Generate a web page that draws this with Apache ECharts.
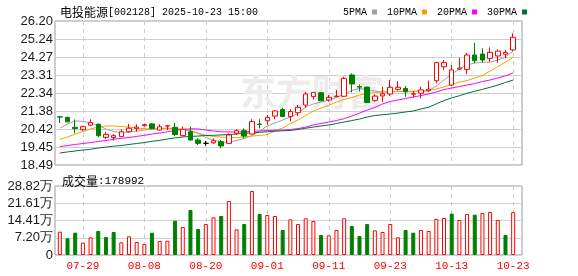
<!DOCTYPE html>
<html><head><meta charset="utf-8">
<script src="https://cdn.jsdelivr.net/npm/echarts@6/dist/echarts.min.js"></script>
<style>html,body{margin:0;padding:0;background:#fff}#c{width:578px;height:276px}</style>
</head><body><div id="c"></div>
<script>
const dates = ['07-24','07-25','07-28','07-29','07-30','07-31','08-01','08-04','08-05','08-06','08-07','08-08','08-11','08-12','08-13','08-14','08-15','08-18','08-19','08-20','08-21','08-22','08-25','08-26','08-27','08-28','08-29','09-01','09-02','09-03','09-04','09-05','09-08','09-09','09-10','09-11','09-12','09-15','09-16','09-17','09-18','09-19','09-22','09-23','09-24','09-25','09-26','09-29','09-30','10-09','10-10','10-13','10-14','10-15','10-16','10-17','10-20','10-21','10-22','10-23'];
const opens  = [21.07,21.04,20.51,20.38,20.62,20.67,19.97,19.96,20.01,20.27,20.45,20.59,20.69,20.36,20.58,20.51,20.06,20.27,19.83,19.65,19.68,19.74,19.65,20.19,20.33,20.15,20.68,20.86,21.11,21.46,21.08,21.29,21.70,22.15,22.36,21.97,22.15,22.17,23.31,22.69,22.66,21.95,22.19,22.29,22.54,22.59,22.28,22.33,22.47,23.00,23.75,22.77,23.63,23.61,24.38,24.43,24.20,24.33,24.42,24.65];
const closes = [21.06,20.80,20.44,20.54,20.76,20.06,20.13,20.06,20.27,20.46,20.52,20.65,20.45,20.54,20.59,20.12,20.40,19.83,19.65,19.65,19.79,19.51,20.10,20.33,20.04,20.81,20.66,21.04,21.38,21.09,21.35,21.58,22.29,22.38,21.93,22.11,22.18,23.13,22.83,22.66,21.84,22.18,22.30,22.65,22.65,22.41,22.30,22.51,22.55,23.97,23.97,23.58,23.68,24.38,24.07,24.11,24.52,24.59,24.52,25.33];
const lows   = [20.74,20.78,20.18,20.31,20.57,19.98,19.87,19.80,19.98,20.22,20.27,20.55,20.40,20.33,20.36,20.05,20.03,19.80,19.56,19.51,19.61,19.39,19.63,20.10,19.92,20.12,20.45,20.64,20.94,21.05,20.84,21.11,21.55,22.00,21.91,21.88,22.12,22.13,22.38,22.43,21.80,21.87,21.87,22.19,22.47,22.15,22.12,22.06,22.41,22.87,23.58,22.72,23.58,23.36,23.94,23.97,24.02,23.97,24.20,24.59];
const highs  = [21.07,21.08,20.93,20.59,20.94,20.72,20.26,20.15,20.40,20.69,20.67,20.71,20.74,20.67,20.62,20.75,20.55,20.55,19.92,19.77,19.91,19.83,20.19,20.40,20.45,20.94,20.94,21.17,21.43,21.55,21.47,21.70,22.41,22.40,22.38,22.24,22.51,23.22,23.40,22.80,22.70,22.28,22.68,23.04,22.98,22.72,22.46,22.68,23.01,24.02,24.11,23.84,24.23,24.50,25.04,24.74,24.79,24.68,24.64,25.54];
const volumes = [97300,69700,93200,51400,73800,100300,75200,96100,52900,78000,54300,46000,93200,58500,59500,143300,117000,188000,108600,129500,157300,162900,225600,107200,129500,267300,171300,167100,162900,104400,149000,129500,153200,142000,83500,82000,104400,153200,121100,79400,129500,103000,96100,129500,73800,104400,93200,104400,100300,150400,154500,172500,146200,171300,168400,175400,179600,146200,83500,178992];
const volumeUp = [1,0,0,1,1,0,0,0,1,1,1,1,0,1,1,0,1,0,0,1,1,0,1,1,0,1,0,1,1,0,1,1,1,1,0,1,1,1,0,0,0,1,1,1,1,0,0,1,1,1,1,0,1,1,0,1,1,1,0,1];
const ma5  = [20.46,20.69,20.85,20.82,20.74,20.61,20.42,20.28,20.23,20.26,20.31,20.36,20.42,20.44,20.47,20.44,20.39,20.31,20.18,19.96,19.83,19.72,19.72,19.80,19.91,20.07,20.31,20.58,20.74,20.90,21.06,21.25,21.60,21.76,21.86,21.97,22.10,22.29,22.48,22.59,22.51,22.45,22.40,22.40,22.43,22.43,22.40,22.43,22.47,22.72,23.04,23.36,23.63,23.84,23.95,23.98,24.00,24.11,24.27,24.59];
const ma10 = [19.86,19.99,20.15,20.28,20.42,20.52,20.58,20.58,20.55,20.52,20.47,20.43,20.42,20.43,20.45,20.44,20.39,20.34,20.20,20.07,20.02,19.98,19.96,19.96,19.99,20.04,20.07,20.12,20.31,20.47,20.71,20.90,21.14,21.38,21.54,21.68,21.86,22.00,22.10,22.24,22.32,22.37,22.40,22.41,22.43,22.43,22.45,22.46,22.48,22.56,22.67,22.80,22.93,23.01,23.15,23.28,23.52,23.76,24.00,24.26];
const ma20 = [19.48,19.53,19.59,19.64,19.69,19.75,19.80,19.87,19.92,19.96,20.02,20.08,20.15,20.20,20.27,20.34,20.39,20.43,20.42,20.36,20.31,20.27,20.26,20.26,20.27,20.28,20.31,20.34,20.35,20.36,20.39,20.44,20.52,20.63,20.71,20.79,20.87,20.97,21.11,21.27,21.43,21.57,21.76,21.89,21.97,22.05,22.13,22.21,22.29,22.40,22.53,22.61,22.69,22.77,22.85,22.96,23.04,23.15,23.26,23.42];
const ma30 = [19.13,19.19,19.24,19.29,19.33,19.40,19.45,19.50,19.53,19.59,19.64,19.69,19.76,19.81,19.88,19.94,19.99,20.02,20.04,20.07,20.08,20.10,20.12,20.15,20.19,20.21,20.24,20.27,20.30,20.32,20.34,20.39,20.46,20.52,20.58,20.63,20.71,20.79,20.87,20.95,21.06,21.14,21.18,21.22,21.27,21.33,21.38,21.49,21.58,21.76,21.94,22.08,22.20,22.33,22.44,22.54,22.65,22.77,22.91,23.04];
const priceTicks = [18.49,19.45,20.42,21.38,22.34,23.31,24.27,25.24,26.20];
const volTicks = [0,72045,144090,216135,288180];
const volTickLabels = ['0','7.20万','14.41万','21.61万','28.82万'];
const maNames = ['5PMA','10PMA','20PMA','30PMA'];
const maColors = ['#a0a0a0','#f5a200','#ff00ff','#00703a'];

const RED = '#ff0000', GREEN = '#008000';
const labelFont = 'Liberation Sans';
const showIdx = (i) => (i - 3) % 8 === 0;

const candleData = dates.map((d, i) => [opens[i], closes[i], lows[i], highs[i]]);
const volData = volumes.map((v, i) => ({
  value: v,
  itemStyle: volumeUp[i] ? {color: '#fff', borderColor: RED, borderWidth: 1} : {color: GREEN, borderColor: GREEN, borderWidth: 1}
}));
const maSeries = [ma5, ma10, ma20, ma30].map((arr, k) => ({
  name: maNames[k], type: 'line', data: arr, xAxisIndex: 1, yAxisIndex: 1,
  symbol: 'none', smooth: false, lineStyle: {width: 1, color: maColors[k]}, itemStyle: {color: maColors[k]}, z: 3
}));

const chart = echarts.init(document.getElementById('c'));
chart.setOption({
  animation: false,
  backgroundColor: '#fff',
  title: [{
    text: '{a|电投能源}{b|[002128] 2025-10-23 15:00}', left: 55, top: 1,
    textStyle: {fontWeight: 'normal', rich: {a: {fontSize: 12, fontWeight: 'normal', fontFamily: 'Noto Sans CJK SC', color: '#000'}, b: {fontSize: 10, fontWeight: 'normal', fontFamily: 'Liberation Mono', color: '#000'}}}
  }, {
    text: '{a|成交量}{b|:178992}', left: 57, top: 170,
    textStyle: {fontWeight: 'normal', rich: {a: {fontSize: 12, fontWeight: 'normal', fontFamily: 'Noto Sans CJK SC', color: '#000'}, b: {fontSize: 11, fontWeight: 'normal', fontFamily: 'Liberation Mono', color: '#000'}}}
  }],
  legend: {
    data: maNames, left: 338, top: 2, align: 'right', icon: 'rect', itemWidth: 5, itemHeight: 5, itemGap: 10,
    textStyle: {fontSize: 10, fontFamily: 'Liberation Mono', color: '#000', padding: [0, 0, 0, 0]}, selectedMode: false
  },
  graphic: [{
    type: 'text', left: 240, top: 74, z: 1, silent: true,
    style: {text: '东方财富', fontSize: 36, fontWeight: 'bold', fontFamily: 'Noto Sans CJK SC', fill: '#ececec'}
  }],
  grid: [
    {left: 55, top: 21, width: 467, height: 144, show: true, borderColor: '#9a9a9a', borderWidth: 1, backgroundColor: 'transparent'},
    {left: 56, top: 21, width: 461, height: 144},
    {left: 55, top: 186, width: 467, height: 69, show: true, borderColor: '#9a9a9a', borderWidth: 1, backgroundColor: 'transparent'},
    {left: 56, top: 186, width: 461, height: 69}
  ],
  xAxis: [
    {gridIndex: 0, type: 'value', min: 0, max: 1, show: false},
    {gridIndex: 1, type: 'category', data: dates, boundaryGap: true,
      axisLine: {show: false}, axisTick: {show: false}, axisLabel: {show: false},
      splitLine: {show: true, interval: showIdx, alignWithLabel: true, lineStyle: {color: '#cccccc', type: [4, 4], width: 1}}},
    {gridIndex: 2, type: 'value', min: 0, max: 1, show: false},
    {gridIndex: 3, type: 'category', data: dates, boundaryGap: true,
      axisLine: {show: false}, axisTick: {show: false, alignWithLabel: true},
      axisLabel: {show: true, interval: showIdx, color: RED, fontSize: 11, fontFamily: 'Liberation Mono', margin: 6},
      splitLine: {show: true, interval: showIdx, alignWithLabel: true, lineStyle: {color: '#cccccc', type: [4, 4], width: 1}}}
  ],
  yAxis: [
    {gridIndex: 0, type: 'value', min: 18.49, max: 26.20, axisLine: {show: false},
      axisTick: {show: false, customValues: priceTicks},
      axisLabel: {customValues: priceTicks, formatter: (v) => v.toFixed(2), color: '#1a1a1a', fontSize: 13, fontFamily: labelFont, margin: 2},
      splitLine: {show: true, lineStyle: {color: '#cfcfcf', width: 1}}},
    {gridIndex: 1, type: 'value', min: 18.49, max: 26.20, show: false, splitLine: {show: false}},
    {gridIndex: 2, type: 'value', min: 0, max: 288180, interval: 72045, axisLine: {show: false}, axisTick: {show: false},
      axisLabel: {formatter: (v) => volTickLabels[volTicks.indexOf(v)] ?? '', color: '#1a1a1a', fontSize: 13, fontFamily: labelFont, margin: 2},
      splitLine: {show: true, lineStyle: {color: '#cfcfcf', width: 1}}},
    {gridIndex: 3, type: 'value', min: 0, max: 288180, show: false, splitLine: {show: false}}
  ],
  series: [
    {type: 'candlestick', xAxisIndex: 1, yAxisIndex: 1, data: candleData, barWidth: 5, z: 4,
      itemStyle: {color: '#ffffff', color0: GREEN, borderColor: RED, borderColor0: GREEN, borderColorDoji: '#000', borderWidth: 1}},
    ...maSeries,
    {type: 'bar', xAxisIndex: 3, yAxisIndex: 3, data: volData, barWidth: 4, z: 4}
  ]
});
</script></body></html>
